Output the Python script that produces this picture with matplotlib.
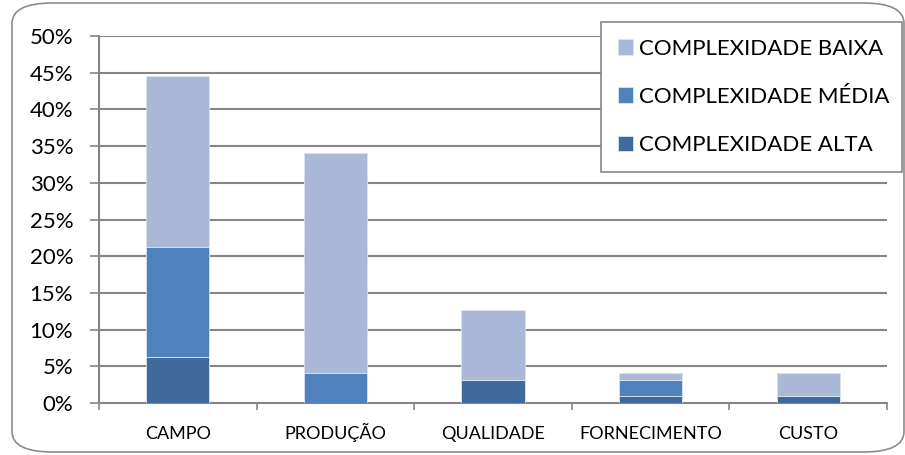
import numpy as np
import matplotlib.pyplot as plt
from matplotlib.patches import FancyBboxPatch
from matplotlib.ticker import FuncFormatter

plt.rcParams['font.family'] = ['Lato', 'DejaVu Sans']

categorias = ['CAMPO', 'PRODUÇÃO', 'QUALIDADE', 'FORNECIMENTO', 'CUSTO']
alta = [6.3, 0.0, 3.1, 1.0, 1.0]
media = [14.9, 4.1, 0.0, 2.1, 0.0]
baixa = [23.4, 29.9, 9.6, 1.0, 3.1]

cor_alta = '#3F6A9B'
cor_media = '#4F81BD'
cor_baixa = '#AAB9D7'

fig = plt.figure(figsize=(9.05, 4.55), dpi=100)
ax = fig.add_axes([99 / 905, 1 - 403 / 455, 788 / 905, 367 / 455])

# moldura arredondada da area do grafico
moldura = FancyBboxPatch((12 / 905, 3 / 455), 892 / 905, 449 / 455,
                         boxstyle='round,pad=0,rounding_size=0.045',
                         transform=fig.transFigure, fill=False,
                         edgecolor='#8C8C8C', linewidth=1.2)
fig.patches.append(moldura)

x = np.arange(len(categorias))
a = np.array(alta)
m = np.array(media)
b = np.array(baixa)
ax.bar(x, a, 0.4, color=cor_alta, edgecolor='#DCE3EE', linewidth=0.6,
       label='COMPLEXIDADE ALTA', zorder=3)
ax.bar(x, m, 0.4, bottom=a, color=cor_media, edgecolor='#DCE3EE',
       linewidth=0.6, label='COMPLEXIDADE MÉDIA', zorder=3)
ax.bar(x, b, 0.4, bottom=a + m, color=cor_baixa, edgecolor='#DCE3EE',
       linewidth=0.6, label='COMPLEXIDADE BAIXA', zorder=3)

ax.set_xlim(-0.5, len(categorias) - 0.5)
ax.set_ylim(0, 50)
ax.set_yticks(np.arange(0, 51, 5))
ax.yaxis.set_major_formatter(FuncFormatter(lambda v, p: '%d%%' % v))
ax.yaxis.grid(True, color='#868686', linewidth=1.5, zorder=0)

ax.set_xticks(x)
ax.set_xticklabels(categorias, fontsize=13)
for lbl in ax.get_xticklabels():
    lbl.set_verticalalignment('baseline')
ax.set_xticks(np.arange(-0.5, len(categorias)), minor=True)
ax.tick_params(axis='x', which='major', length=0, pad=26)
ax.tick_params(axis='x', which='minor', length=5, color='#868686', width=1.2)
ax.tick_params(axis='y', labelsize=16, length=6.5, color='#868686', width=1.2,
               pad=12)

for lado in ['top', 'right']:
    ax.spines[lado].set_visible(False)
for lado in ['left', 'bottom']:
    ax.spines[lado].set_color('#868686')
    ax.spines[lado].set_linewidth(1.5)

handles, labels = ax.get_legend_handles_labels()
leg = fig.legend(handles[::-1], labels[::-1], loc='upper left',
                 bbox_to_anchor=(601 / 905, 1 - 168 / 455, 301 / 905, 146 / 455),
                 mode='expand', fontsize=16,
                 frameon=True, fancybox=False, edgecolor='#868686',
                 framealpha=1, handlelength=0.68, handleheight=0.68,
                 handletextpad=0.3, labelspacing=1.27, borderpad=0.75,
                 borderaxespad=0)
leg.get_frame().set_linewidth(1.2)
leg.set_zorder(5)

fig.savefig('out.png', dpi=100)
